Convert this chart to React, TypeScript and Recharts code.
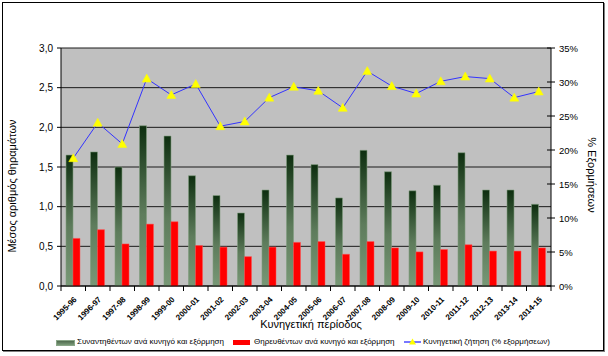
import React from 'react';
import { ComposedChart, Bar, Line, XAxis, YAxis, CartesianGrid, Legend, Label } from 'recharts';

const periods = ['1995-96', '1996-97', '1997-98', '1998-99', '1999-00', '2000-01', '2001-02', '2002-03', '2003-04', '2004-05', '2005-06', '2006-07', '2007-08', '2008-09', '2009-10', '2010-11', '2011-12', '2012-13', '2013-14', '2014-15'];
const encountered = [1.65, 1.69, 1.5, 2.02, 1.89, 1.39, 1.14, 0.92, 1.21, 1.65, 1.53, 1.11, 1.71, 1.44, 1.2, 1.27, 1.68, 1.21, 1.21, 1.03];
const harvested = [0.6, 0.71, 0.53, 0.78, 0.81, 0.51, 0.49, 0.37, 0.49, 0.55, 0.56, 0.4, 0.56, 0.48, 0.43, 0.46, 0.52, 0.44, 0.44, 0.48];
const demand = [18.8, 24.0, 20.9, 30.5, 28.1, 29.7, 23.5, 24.2, 27.7, 29.3, 28.7, 26.2, 31.6, 29.4, 28.3, 30.1, 30.8, 30.5, 27.7, 28.6];
const leftTicks = [0, 0.5, 1, 1.5, 2, 2.5, 3];
const rightTicks = [0, 5, 10, 15, 20, 25, 30, 35];

const seriesNames = {
  encountered: 'Συναντηθέντων ανά κυνηγό και εξόρμηση',
  harvested: 'Θηρευθέντων ανά κυνηγό και εξόρμηση',
  demand: 'Κυνηγετική ζήτηση (% εξορμήσεων)',
};
const leftTitle = 'Μέσος αριθμός θηραμάτων';
const rightTitle = '% Εξορμήσεων';
const xTitle = 'Κυνηγετική περίοδος';

const data = periods.map((p, i) => ({
  period: p,
  encountered: encountered[i],
  harvested: harvested[i],
  demand: demand[i],
}));

const FONT = '"Liberation Sans", Arial, sans-serif';

const XTick = (props: any) => {
  const { x, y, payload, index, width, visibleTicksCount } = props;
  const band = width && visibleTicksCount ? width / visibleTicksCount : 24.5;
  const half = band / 2;
  const axisY = y - 7;
  const ax = x + 4;
  const ay = axisY + 14;
  return (
    <g>
      <line x1={x - half} y1={axisY} x2={x - half} y2={axisY + 5} stroke="#000" />
      {index === visibleTicksCount - 1 && (
        <line x1={x + half} y1={axisY} x2={x + half} y2={axisY + 5} stroke="#000" />
      )}
      <text
        x={ax}
        y={ay}
        textAnchor="end"
        transform={`rotate(-45 ${ax} ${ay})`}
        fontSize={8}
        fontWeight="bold"
        fontFamily={FONT}
        fill="#000"
      >
        {payload.value}
      </text>
    </g>
  );
};

const RightTick = (props: any) => {
  const { x, y, payload } = props;
  const axisX = x - 8;
  return (
    <g>
      <line x1={axisX - 4} y1={y} x2={axisX + 4} y2={y} stroke="#000" />
      <text x={x} y={y} dy={3.5} textAnchor="start" fontSize={9.5} fontFamily={FONT} fill="#000">
        {`${payload.value}%`}
      </text>
    </g>
  );
};

const Triangle = (props: any) => {
  const { cx, cy } = props;
  if (cx == null || cy == null) return null;
  return (
    <polygon
      points={`${cx},${cy - 4.5} ${cx + 4.5},${cy + 3.5} ${cx - 4.5},${cy + 3.5}`}
      fill="#FFFF00"
      stroke="#FFFF00"
      strokeWidth={0.5}
    />
  );
};

const LegendContent = () => {
  const textStyle: React.CSSProperties = {
    position: 'absolute',
    top: 0,
    fontSize: 8,
    fontFamily: FONT,
    color: '#000',
    whiteSpace: 'nowrap',
    lineHeight: '10px',
  };
  return (
    <div style={{ position: 'relative', width: 608, height: 12 }}>
      <div style={{ position: 'absolute', left: 56, top: 3, width: 17, height: 4, background: 'linear-gradient(#4f6a4e, #7a9a78)', border: '0.5px solid #8aa688' }} />
      <div style={{ ...textStyle, left: 77 }}>{seriesNames.encountered}</div>
      <div style={{ position: 'absolute', left: 233, top: 3, width: 17, height: 5, background: '#FF0000' }} />
      <div style={{ ...textStyle, left: 254 }}>{seriesNames.harvested}</div>
      <svg style={{ position: 'absolute', left: 404, top: 0 }} width={17} height={10}>
        <line x1={0} y1={5} x2={17} y2={5} stroke="#7777FF" strokeWidth={2} />
        <polygon points="8.5,1.5 12,7.5 5,7.5" fill="#FFFF00" />
      </svg>
      <div style={{ ...textStyle, left: 423 }}>{seriesNames.demand}</div>
    </div>
  );
};

export default function App() {
  return (
    <div style={{ position: 'absolute', left: 0, top: 0, width: 608, height: 356, background: '#fff' }}>
      <div
        style={{
          position: 'absolute',
          left: 2,
          top: 2,
          width: 600,
          height: 347,
          border: '1px solid #000',
          boxShadow: '1px 1px 0 #808080',
        }}
      />
      <ComposedChart
        width={608}
        height={356}
        data={data}
        margin={{ top: 48, right: 0, bottom: 30, left: 0 }}
        barGap={0}
        style={{ position: 'absolute', left: 0, top: 0, fontFamily: FONT }}
      >
        <defs>
          <linearGradient id="greenGrad" x1="0" y1="0" x2="0" y2="1">
            <stop offset="0%" stopColor="#0d2e0f" />
            <stop offset="55%" stopColor="#5e7c5c" />
            <stop offset="100%" stopColor="#789876" />
          </linearGradient>
        </defs>
        <CartesianGrid vertical={false} fill="#C0C0C0" stroke="#1a1a1a" yAxisId="left" />
        <XAxis
          dataKey="period"
          interval={0}
          tick={<XTick />}
          tickLine={false}
          tickSize={5}
          tickMargin={2}
          axisLine={{ stroke: '#000' }}
          height={40}
        >
          <Label
            content={() => (
              <text x={311} y={328} textAnchor="middle" fontSize={11} fontFamily={FONT} fill="#000">
                {xTitle}
              </text>
            )}
          />
        </XAxis>
        <YAxis
          yAxisId="left"
          orientation="left"
          width={61}
          domain={[0, 3]}
          ticks={leftTicks}
          tickFormatter={(v: number) => v.toFixed(1).replace('.', ',')}
          tick={{ fontSize: 10, fill: '#000', fontFamily: FONT }}
          tickSize={4}
          tickMargin={4}
          tickLine={{ stroke: '#000' }}
          axisLine={{ stroke: '#000' }}
          interval={0}
        >
          <Label
            content={() => (
              <text x={16} y={186} textAnchor="middle" transform="rotate(-90 16 186)" fontSize={11} fontFamily={FONT} fill="#000">
                {leftTitle}
              </text>
            )}
          />
        </YAxis>
        <YAxis
          yAxisId="right"
          orientation="right"
          width={57}
          domain={[0, 35]}
          ticks={rightTicks}
          tick={<RightTick />}
          tickSize={4}
          tickMargin={4}
          tickLine={false}
          axisLine={{ stroke: '#000' }}
          interval={0}
        >
          <Label
            content={() => (
              <text x={588} y={175} textAnchor="middle" transform="rotate(90 588 175)" fontSize={11} fontFamily={FONT} fill="#000">
                {rightTitle}
              </text>
            )}
          />
        </YAxis>
        <Legend
          verticalAlign="middle"
          align="center"
          layout="horizontal"
          content={<LegendContent />}
          wrapperStyle={{ top: 337, left: 0, width: 608 }}
        />
        <Bar
          yAxisId="left"
          dataKey="encountered"
          name={seriesNames.encountered}
          barSize={7}
          fill="url(#greenGrad)"
          stroke="#7f9c7d"
          strokeWidth={0.6}
          isAnimationActive={false}
        />
        <Bar
          yAxisId="left"
          dataKey="harvested"
          name={seriesNames.harvested}
          barSize={7}
          fill="#FF0000"
          stroke="#ff5050"
          strokeWidth={0.5}
          isAnimationActive={false}
        />
        <Line
          yAxisId="right"
          type="linear"
          dataKey="demand"
          name={seriesNames.demand}
          stroke="#3333FF"
          strokeWidth={1}
          dot={<Triangle />}
          activeDot={false}
          isAnimationActive={false}
        />
      </ComposedChart>
    </div>
  );
}
